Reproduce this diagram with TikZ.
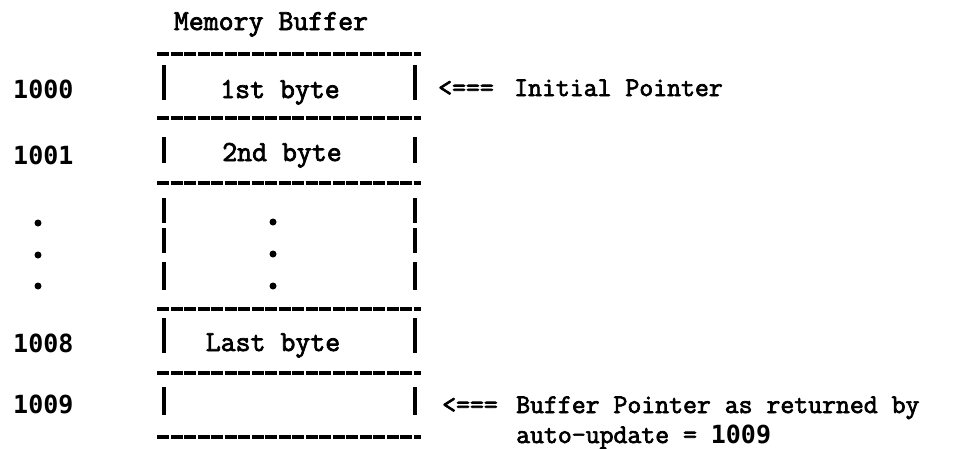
\documentclass[tikz,border=0pt]{standalone}
\usepackage{fontspec}
\newfontfamily\tw{Latin Modern Mono}[FakeBold=2.6]
\newfontfamily\addrfont{DejaVu Sans Mono}
\begin{document}
\begin{tikzpicture}[x=1pt,y=-1pt,
  txt/.style={font=\tw\fontsize{27}{30}\selectfont, inner sep=0pt, anchor=base west},
  cell/.style={font=\tw\fontsize{29}{32}\selectfont, inner sep=0pt, anchor=base},
  addr/.style={font=\addrfont\fontsize{25}{28}\selectfont\bfseries, inner sep=0pt, anchor=base west},
  rule/.style={line width=3.2pt, dash pattern=on 12pt off 1.5pt},
  bar/.style={line width=3.2pt},
  dot/.style={circle, fill, inner sep=0pt, minimum size=7pt}]
\useasboundingbox (0,0) rectangle (974,448);

% heading
\node[cell] (title) at (271,30) {Memory Buffer};

% horizontal separators of the buffer
\foreach \y in {54,118,183,309,373,437}
  \draw[rule] (157,\y) -- (421,\y);

% vertical walls of the cells
\foreach \ya/\yb in {65/100, 137/163, 198/223, 228/253, 262/290, 318/353, 387/415} {
  \draw[bar] (164,\ya) -- (164,\yb);
  \draw[bar] (415,\ya) -- (415,\yb);
}

% cell contents
\node[cell] (c1) at (280,98) {1st byte};
\node[cell] (c2) at (282,161) {2nd byte};
\node[dot] (cd1) at (273,222) {};
\node[dot] (cd2) at (273,254) {};
\node[dot] (cd3) at (273,286) {};
\node[cell] (c8) at (273,351) {Last byte};

% addresses
\node[addr] (a0) at (13,98) {1000};
\node[addr] (a1) at (13,164) {1001};
\node[dot] (ad1) at (38,223) {};
\node[dot] (ad2) at (38,255) {};
\node[dot] (ad3) at (38,286) {};
\node[addr] (a8) at (13,352) {1008};
\node[addr] (a9) at (13,413) {1009};

% pointer annotations
\node[txt] (p1) at (438,96) {<===};
\node[txt] (l1) at (514,96) {Initial Pointer};
\node[txt] (p2) at (442,413) {<===};
\node[txt] (l2) at (516,413) {Buffer Pointer as returned by};
\node[txt] (l3) at (516,443) {auto-update = {\addrfont\bfseries\fontsize{25}{28}\selectfont 1009}};
\end{tikzpicture}
\end{document}
